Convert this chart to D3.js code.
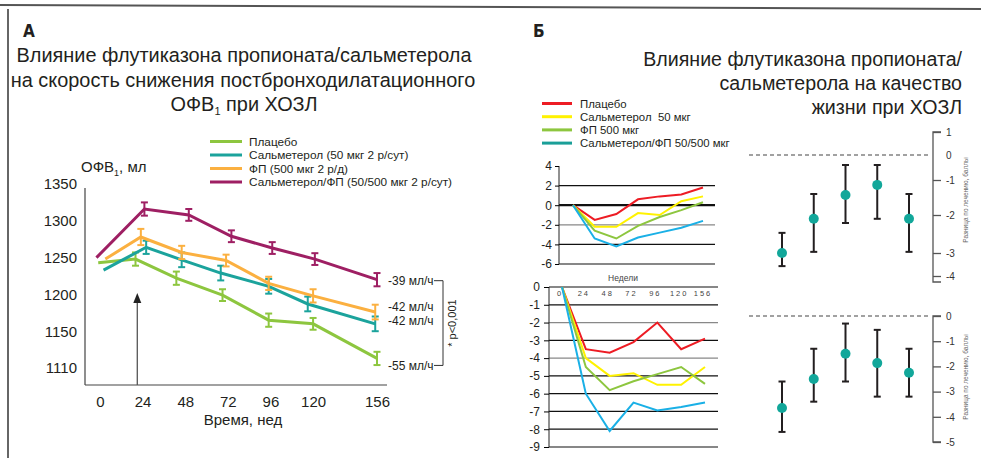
<!DOCTYPE html>
<html>
<head>
<meta charset="utf-8">
<script src="https://cdn.jsdelivr.net/npm/d3@7"></script>
<style>
  body { margin: 0; background: #fff; }
  text { font-family: "Liberation Sans", Arial, sans-serif; fill: #231f20; }
</style>
</head>
<body>
<script>
// Width and height
var w = 981;
var h = 458;

// ---- Panel A: FEV1 over time
var placeboWeeks = [-1, 20, 43, 69, 95, 120, 156];
var placeboFev   = [1243, 1248, 1222, 1199, 1165, 1160, 1113];
var placeboErr   = [0, 9, 9, 8, 9, 8, 9];
var salmWeeks    = [2, 26, 46, 68, 95, 117, 155];
var salmFev      = [1233, 1264, 1247, 1229, 1211, 1187, 1160];
var salmErr      = [0, 9, 10, 10, 10, 10, 10];
var fpWeeks      = [3, 23, 46, 71, 95, 120, 155];
var fpFev        = [1248, 1278, 1257, 1246, 1215, 1198, 1176];
var fpErr        = [0, 11, 9, 8, 9, 9, 10];
var combWeeks    = [-2, 25, 50, 74, 97, 121, 156];
var combFev      = [1250, 1316, 1308, 1279, 1263, 1248, 1220];
var combErr      = [0, 9, 8, 8, 8, 8, 9];
var namesA       = ["Плацебо", "Сальметерол (50 мкг 2 р/сут)", "ФП (500 мкг 2 р/д)", "Сальметерол/ФП (50/500 мкг 2 р/сут)"];
var xTicksA      = [0, 24, 48, 72, 96, 120, 156];
var yTicksA      = [1100, 1150, 1200, 1250, 1300, 1350];
var yTickLabelsA = ["1110", "1150", "1200", "1250", "1300", "1350"];
var slopeLabels  = ["-55 мл/ч", "-42 мл/ч", "-42 мл/ч", "-39 мл/ч"];

// ---- Panel B: quality of life
var qolWeeks      = ["0", "24", "48", "72", "96", "120", "156"];
var qolNames      = ["Плацебо", "Сальметерол  50 мкг", "ФП 500 мкг", "Сальметерол/ФП 50/500 мкг"];
var qolTopPlacebo = [0, -1.5, -0.9, 0.6, 0.9, 1.1, 1.8];
var qolTopSalm    = [0, -2.2, -2.2, -0.8, -1.0, 0.4, 0.9];
var qolTopFp      = [0, -2.6, -3.4, -2.1, -1.2, -0.5, 0.3];
var qolTopComb    = [0, -3.4, -4.2, -3.3, -2.8, -2.3, -1.6];
var qolTopTicks   = [4, 2, 0, -2, -4, -6];
var qolBotPlacebo = [0, -3.5, -3.7, -3.1, -2.0, -3.5, -2.9];
var qolBotSalm    = [0, -4.0, -5.0, -4.85, -5.5, -5.5, -4.5];
var qolBotFp      = [0, -4.5, -5.8, -5.3, -4.9, -4.5, -5.45];
var qolBotComb    = [0, -6.0, -8.1, -6.5, -6.95, -6.75, -6.5];
var qolBotTicks   = [0, -1, -2, -3, -4, -5, -6, -7, -8, -9];

// treatment differences (mean, lower, upper)
var diffTopMean  = [-3.0, -2.1, -1.43, -1.14, -2.1];
var diffTopLow   = [-3.57, -2.97, -2.21, -2.1, -2.97];
var diffTopHigh  = [-2.47, -1.4, -0.4, -0.4, -1.4];
var diffTopTicks = [1, 0, -1, -2, -3, -4];
var diffBotMean  = [-3.65, -2.5, -1.5, -1.87, -2.25];
var diffBotLow   = [-4.6, -3.4, -2.6, -3.2, -3.2];
var diffBotHigh  = [-2.6, -1.3, -0.3, -0.55, -1.3];
var diffBotTicks = [0, -1, -2, -3, -4, -5];

var colorsA   = ["#8dc63f", "#1ba39c", "#fbb040", "#9e1f63"];
var colorsQol = ["#ed1c24", "#fff200", "#8dc63f", "#1ab0e6"];
var legendQol = ["#ed1c24", "#fff200", "#8dc63f", "#1a9f98"];
var narrow = '"Liberation Sans Narrow", "DejaVu Sans Condensed", sans-serif';
var plain = function(d) { return String(d); };   // keep ascii hyphen minus

//Create SVG element
var svg = d3.select("body")
            .append("svg")
            .attr("width", w)
            .attr("height", h);

svg.append("rect").attr("width", w).attr("height", h).attr("fill", "#fff");

// frame
svg.append("line").attr("x1", 0).attr("y1", 5).attr("x2", w).attr("y2", 9)
   .attr("stroke", "#555").attr("stroke-width", 2);
svg.append("line").attr("x1", 8).attr("y1", 9).attr("x2", 8).attr("y2", h)
   .attr("stroke", "#333").attr("stroke-width", 1.5);

// panel letters
svg.append("text").attr("x", 23).attr("y", 37).text("А")
   .style("font-family", narrow).attr("font-weight", "bold").attr("font-size", 17);
svg.append("text").attr("x", 533).attr("y", 37).text("Б")
   .style("font-family", narrow).attr("font-weight", "bold").attr("font-size", 17);

// titles
var titleA = svg.append("text").attr("text-anchor", "middle").attr("font-size", 19.9);
titleA.append("tspan").attr("x", 244).attr("y", 62).text("Влияние флутиказона пропионата/сальметерола");
titleA.append("tspan").attr("x", 243).attr("y", 87).text("на скорость снижения постбронходилатационного");
titleA.append("tspan").attr("x", 244).attr("y", 111).text("ОФВ");
titleA.append("tspan").attr("font-size", 11).attr("dy", 4).text("1");
titleA.append("tspan").attr("dy", -4).text(" при ХОЗЛ");

var titleB = svg.append("text").attr("text-anchor", "end").attr("font-size", 19.6);
["Влияние флутиказона пропионата/", "сальметерола на качество", "жизни при ХОЗЛ"].forEach(function(s, i) {
    titleB.append("tspan").attr("x", 962).attr("y", 66 + i * 24).text(s);
});

// ================= Panel A =================
var xA = d3.scaleLinear().domain([0, 156]).range([100, 377]);
var yA = d3.scaleLinear().domain([1100, 1350]).range([368, 184]);

var seriesA = [
    {weeks: placeboWeeks, fev: placeboFev, err: placeboErr},
    {weeks: salmWeeks, fev: salmFev, err: salmErr},
    {weeks: fpWeeks, fev: fpFev, err: fpErr},
    {weeks: combWeeks, fev: combFev, err: combErr}
];

// axes lines
svg.append("line").attr("x1", 85).attr("x2", 85).attr("y1", 188).attr("y2", 385)
   .attr("stroke", "#444").attr("stroke-width", 1.2);
svg.append("line").attr("x1", 85).attr("x2", 387).attr("y1", 385).attr("y2", 385)
   .attr("stroke", "#444").attr("stroke-width", 1.2);

var yAxisA = svg.append("g").attr("transform", "translate(85,0)")
   .call(d3.axisLeft(yA).tickValues(yTicksA).tickSize(0).tickPadding(8)
        .tickFormat(function(d, i) { return yTickLabelsA[i]; }));
yAxisA.select(".domain").remove();
yAxisA.selectAll("text").attr("font-size", 15).attr("font-family", null).style("fill", "#231f20");

var xAxisA = svg.append("g").attr("transform", "translate(0,385)")
   .call(d3.axisBottom(xA).tickValues(xTicksA).tickSize(0).tickPadding(11).tickFormat(plain));
xAxisA.select(".domain").remove();
xAxisA.selectAll("text").attr("font-size", 15).attr("font-family", null).style("fill", "#231f20");

svg.append("text").attr("x", 243).attr("y", 425).attr("text-anchor", "middle")
   .attr("font-size", 15).text("Время, нед");

var yLab = svg.append("text").attr("x", 81).attr("y", 172).attr("font-size", 15);
yLab.append("tspan").text("ОФВ");
yLab.append("tspan").attr("font-size", 9).attr("dy", 4).text("1");
yLab.append("tspan").attr("dy", -4).text(", мл");

// arrow at start of treatment
svg.append("line").attr("x1", xA(21)).attr("x2", xA(21)).attr("y1", 385).attr("y2", 301)
   .attr("stroke", "#555").attr("stroke-width", 1.3);
svg.append("path")
   .attr("d", "M" + (xA(21) - 4) + ",303L" + xA(21) + ",293L" + (xA(21) + 4) + ",303Z")
   .attr("fill", "#222");

// lines + error bars
var lineA = d3.line();
seriesA.forEach(function(s, k) {
    var pts = s.fev.map(function(v, i) { return [xA(s.weeks[i]), yA(v)]; });
    svg.append("path").attr("d", lineA(pts))
       .attr("fill", "none").attr("stroke", colorsA[k]).attr("stroke-width", 3);

    var bars = svg.append("g").selectAll("g.err")
        .data(s.fev.map(function(v, i) { return {x: s.weeks[i], v: v, e: s.err[i]}; }).filter(function(d) { return d.e > 0; }))
        .enter().append("g").attr("class", "err")
        .attr("stroke", colorsA[k]).attr("stroke-width", 2);
    bars.append("line")
        .attr("x1", function(d) { return xA(d.x); }).attr("x2", function(d) { return xA(d.x); })
        .attr("y1", function(d) { return yA(d.v - d.e); }).attr("y2", function(d) { return yA(d.v + d.e); });
    bars.append("line")
        .attr("x1", function(d) { return xA(d.x) - 3.5; }).attr("x2", function(d) { return xA(d.x) + 3.5; })
        .attr("y1", function(d) { return yA(d.v - d.e); }).attr("y2", function(d) { return yA(d.v - d.e); });
    bars.append("line")
        .attr("x1", function(d) { return xA(d.x) - 3.5; }).attr("x2", function(d) { return xA(d.x) + 3.5; })
        .attr("y1", function(d) { return yA(d.v + d.e); }).attr("y2", function(d) { return yA(d.v + d.e); });
});

// slope labels
var slopeShift = [7, -3, -5, 1];
var slopeY = seriesA.map(function(s, k) { return yA(s.fev[s.fev.length - 1]) + slopeShift[k]; });
svg.selectAll("text.slope")
   .data(slopeLabels)
   .enter().append("text")
   .attr("class", "slope")
   .attr("x", 388)
   .attr("y", function(d, i) { return slopeY[i]; })
   .attr("dy", "0.35em")
   .attr("font-size", 12)
   .text(function(d) { return d; });

// bracket
var bTop = slopeY[3], bBot = slopeY[0];
svg.append("path")
   .attr("d", "M434," + bTop + "H443V" + bBot + "H434")
   .attr("fill", "none").attr("stroke", "#333").attr("stroke-width", 1);
svg.append("text")
   .attr("transform", "translate(452," + ((bTop + bBot) / 2) + ") rotate(-90)")
   .attr("text-anchor", "middle").attr("dy", "0.35em")
   .attr("font-size", 11).text("* p<0,001");

// legend A
var legA = svg.selectAll("g.legA")
   .data(namesA).enter().append("g").attr("class", "legA")
   .attr("transform", function(d, i) { return "translate(210," + (141.5 + i * 13.5) + ")"; });
legA.append("line").attr("x1", 0).attr("x2", 32)
   .attr("stroke", function(d, i) { return colorsA[i]; }).attr("stroke-width", 3);
legA.append("text").attr("x", 39).attr("dy", "0.35em").attr("font-size", 11.8)
   .text(function(d) { return d; });

// ================= Panel B =================
// legend
var legB = svg.selectAll("g.legB")
   .data(qolNames).enter().append("g").attr("class", "legB")
   .attr("transform", function(d, i) { return "translate(542," + (103.5 + i * 13.2) + ")"; });
legB.append("line").attr("x1", 0).attr("x2", 30)
   .attr("stroke", function(d, i) { return legendQol[i]; }).attr("stroke-width", 3);
legB.append("text").attr("x", 38).attr("dy", "0.35em").attr("font-size", 11.4)
   .style("white-space", "pre")
   .text(function(d) { return d; });

// --- upper QoL chart
var xQt = d3.scalePoint().domain(qolWeeks).range([573, 703]);
var yQt = d3.scaleLinear().domain([4, -6]).range([166, 264]);

var gridTop = svg.append("g");
gridTop.selectAll("line")
   .data(qolTopTicks.filter(function(d) { return d < 4; }))
   .enter().append("line")
   .attr("x1", 559).attr("x2", 715)
   .attr("y1", function(d) { return yQt(d); }).attr("y2", function(d) { return yQt(d); })
   .attr("stroke", function(d) { return d === -2 ? "#888" : "#111"; })
   .attr("stroke-width", function(d) { return d === 0 ? 2.2 : 1.2; });

var yAxisQt = svg.append("g").attr("transform", "translate(559,0)")
   .call(d3.axisLeft(yQt).tickValues(qolTopTicks).tickSize(4).tickPadding(3).tickFormat(plain));
yAxisQt.select(".domain").attr("stroke", "#222").attr("d", "M0," + yQt(4) + "V" + yQt(-6));
yAxisQt.selectAll("text").attr("font-size", 12).attr("font-family", null).style("fill", "#231f20");

var qolTop = [qolTopPlacebo, qolTopSalm, qolTopFp, qolTopComb];
var lineQt = d3.line().x(function(d, i) { return xQt(qolWeeks[i]); }).y(function(d) { return yQt(d); });
qolTop.forEach(function(s, k) {
    svg.append("path").attr("d", lineQt(s))
       .attr("fill", "none").attr("stroke", colorsQol[k]).attr("stroke-width", 2);
});

svg.append("text").attr("x", 623).attr("y", 281).attr("text-anchor", "middle")
   .attr("font-size", 8.5).style("fill", "#444").text("Недели");

// --- lower QoL chart
var xQb = d3.scalePoint().domain(qolWeeks).range([562, 705]);
var yQb = d3.scaleLinear().domain([0, -9]).range([287, 447]);

svg.append("g").selectAll("line")
   .data(qolBotTicks)
   .enter().append("line")
   .attr("x1", 549).attr("x2", 718)
   .attr("y1", function(d) { return yQb(d); }).attr("y2", function(d) { return yQb(d); })
   .attr("stroke", function(d) { return (d === -2 || d === -4) ? "#888" : "#111"; })
   .attr("stroke-width", 1.2);

var yAxisQb = svg.append("g").attr("transform", "translate(549,0)")
   .call(d3.axisLeft(yQb).tickValues(qolBotTicks).tickSize(5).tickPadding(4).tickFormat(plain));
yAxisQb.select(".domain").attr("stroke", "#222").attr("d", "M0," + yQb(0) + "V" + yQb(-9));
yAxisQb.selectAll("text").attr("font-size", 12).attr("font-family", null).style("fill", "#231f20");

svg.selectAll("text.wk")
   .data(qolWeeks).enter().append("text").attr("class", "wk")
   .attr("x", function(d) { return xQb(d) - 2; })
   .attr("y", 296)
   .attr("text-anchor", "middle")
   .attr("font-size", 7.5)
   .style("letter-spacing", "2px")
   .style("fill", "#444")
   .text(function(d) { return d; });

var qolBot = [qolBotPlacebo, qolBotSalm, qolBotFp, qolBotComb];
var lineQb = d3.line().x(function(d, i) { return xQb(qolWeeks[i]); }).y(function(d) { return yQb(d); });
qolBot.forEach(function(s, k) {
    svg.append("path").attr("d", lineQb(s))
       .attr("fill", "none").attr("stroke", colorsQol[k]).attr("stroke-width", 2);
});

// --- difference dot charts
function diffChart(mean, low, high, ticks, yScale, axisBottomY, titleY) {
    var x = d3.scalePoint().domain(d3.range(mean.length)).range([782, 909]);

    svg.append("line").attr("x1", 749).attr("x2", 928)
       .attr("y1", yScale(0)).attr("y2", yScale(0))
       .attr("stroke", "#444").attr("stroke-width", 1.2).attr("stroke-dasharray", "4,3");

    var ax = svg.append("g").attr("transform", "translate(933,0)")
       .call(d3.axisRight(yScale).tickValues(ticks).tickSize(8).tickPadding(5).tickFormat(plain));
    ax.select(".domain").attr("stroke", "#555").attr("stroke-width", 1.3)
       .attr("d", "M8," + yScale(ticks[0]) + "H0V" + axisBottomY + "H8");
    ax.selectAll(".tick line").attr("stroke", "#555").attr("stroke-width", 1.3)
       .attr("x2", function(d) { return d === 0 && ticks[0] !== 0 ? 0 : 8; });
    ax.selectAll("text").attr("font-size", 10).attr("font-family", null).style("fill", "#333");

    svg.append("text")
       .attr("transform", "translate(966," + titleY + ") rotate(-90)")
       .attr("text-anchor", "middle").attr("dy", "0.35em")
       .attr("font-size", 6.5).style("fill", "#666")
       .text("Разница по лечению, баллы");

    var g = svg.append("g").selectAll("g")
       .data(mean).enter().append("g")
       .attr("stroke", "#231f20").attr("stroke-width", 2);
    g.append("line")
       .attr("x1", function(d, i) { return x(i); }).attr("x2", function(d, i) { return x(i); })
       .attr("y1", function(d, i) { return yScale(low[i]); }).attr("y2", function(d, i) { return yScale(high[i]); });
    g.append("line")
       .attr("x1", function(d, i) { return x(i) - 3.5; }).attr("x2", function(d, i) { return x(i) + 3.5; })
       .attr("y1", function(d, i) { return yScale(low[i]); }).attr("y2", function(d, i) { return yScale(low[i]); });
    g.append("line")
       .attr("x1", function(d, i) { return x(i) - 3.5; }).attr("x2", function(d, i) { return x(i) + 3.5; })
       .attr("y1", function(d, i) { return yScale(high[i]); }).attr("y2", function(d, i) { return yScale(high[i]); });
    svg.append("g").selectAll("circle")
       .data(mean).enter().append("circle")
       .attr("cx", function(d, i) { return x(i); })
       .attr("cy", function(d) { return yScale(d); })
       .attr("r", 5)
       .attr("fill", "#12a79a");
}

var yDt = d3.scaleLinear().domain(diffTopTicks).range([132, 155, 180, 215, 253, 276]);
diffChart(diffTopMean, diffTopLow, diffTopHigh, diffTopTicks, yDt, 282, 200);

var yDb = d3.scaleLinear().domain([0, -5]).range([316, 442]);
diffChart(diffBotMean, diffBotLow, diffBotHigh, diffBotTicks, yDb, 442, 377);
</script>
</body>
</html>
